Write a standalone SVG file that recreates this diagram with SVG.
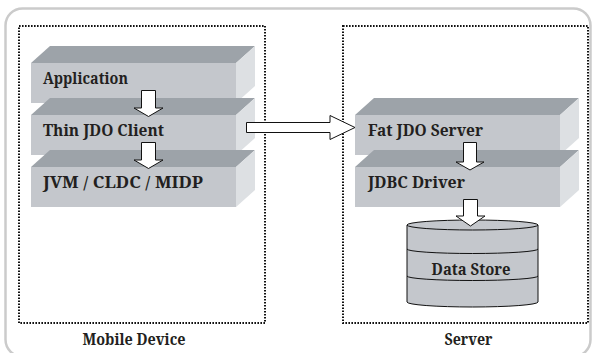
<svg xmlns="http://www.w3.org/2000/svg" width="596" height="353" viewBox="0 0 596 353">
<style>
.front{fill:#c4c7cc}
.top{fill:#9da3a9}
.side{fill:#dde0e3}
.lbl{font-family:'Noto Serif','DejaVu Serif','Liberation Serif',serif;font-weight:700;font-size:17px;fill:#231f20}
.box{fill:none;stroke:#111;stroke-width:2;stroke-dasharray:1.6 1.4}
.arr{fill:#fff;stroke:#111;stroke-width:1}
</style>
<rect x="5.5" y="8.5" width="585" height="348" rx="17" fill="none" stroke="#cbcbcb" stroke-width="2.5"/>
<g id="mobile-device">
<rect class="box" x="19" y="26" width="246" height="297"/>
<text class="lbl" x="134" y="345" text-anchor="middle" textLength="103" lengthAdjust="spacingAndGlyphs">Mobile Device</text>
</g>
<g id="server">
<rect class="box" x="343" y="26" width="245" height="297"/>
<text class="lbl" x="468.5" y="345" text-anchor="middle" textLength="48" lengthAdjust="spacingAndGlyphs">Server</text>
</g>
<g id="application">
<polygon class="top" points="31,63 50,46 255,46 236,63"/>
<polygon class="side" points="236,63 255,46 255,86 236,103"/>
<rect class="front" x="31" y="63" width="205" height="40"/>
<text class="lbl" x="43" y="84" textLength="85" lengthAdjust="spacingAndGlyphs">Application</text>
</g>
<g id="thin-jdo-client">
<polygon class="top" points="31,115 50,98 255,98 236,115"/>
<polygon class="side" points="236,115 255,98 255,138 236,155"/>
<rect class="front" x="31" y="115" width="205" height="40"/>
<text class="lbl" x="43" y="136" textLength="121" lengthAdjust="spacingAndGlyphs">Thin JDO Client</text>
</g>
<g id="jvm-cldc-midp">
<polygon class="top" points="31,167 50,150 255,150 236,167"/>
<polygon class="side" points="236,167 255,150 255,190 236,207"/>
<rect class="front" x="31" y="167" width="205" height="40"/>
<text class="lbl" x="43" y="188" textLength="160" lengthAdjust="spacingAndGlyphs">JVM / CLDC / MIDP</text>
</g>
<g id="fat-jdo-server">
<polygon class="top" points="355,115 374,98 579,98 560,115"/>
<polygon class="side" points="560,115 579,98 579,138 560,155"/>
<rect class="front" x="355" y="115" width="205" height="40"/>
<text class="lbl" x="368" y="136" textLength="115" lengthAdjust="spacingAndGlyphs">Fat JDO Server</text>
</g>
<g id="jdbc-driver">
<polygon class="top" points="355,167 374,150 579,150 560,167"/>
<polygon class="side" points="560,167 579,150 579,190 560,207"/>
<rect class="front" x="355" y="167" width="205" height="40"/>
<text class="lbl" x="368" y="188" textLength="97" lengthAdjust="spacingAndGlyphs">JDBC Driver</text>
</g>
<g id="data-store">
<path d="M407,225 L407,302 A65.5,5 0 0 0 538,302 L538,225 Z" fill="#c4c7cc" stroke="#111" stroke-width="1"/>
<ellipse cx="472.5" cy="225" rx="65.5" ry="5" fill="#c4c7cc" stroke="#111" stroke-width="1"/>
<path d="M407,249 A65.5,4.5 0 0 0 538,249 M407,276 A65.5,4.5 0 0 0 538,276" fill="none" stroke="#111" stroke-width="1"/>
<text class="lbl" x="471" y="275" text-anchor="middle" textLength="79" lengthAdjust="spacingAndGlyphs">Data Store</text>
</g>
<g id="connectors">
<polygon class="arr" points="141.5,90.5 155.5,90.5 155.5,108 163,108 148.5,116.5 134,108 141.5,108"/>
<polygon class="arr" points="141.5,142.5 155.5,142.5 155.5,160 163,160 148.5,168.5 134,160 141.5,160"/>
<polygon class="arr" points="246.5,122.5 330,122.5 330,115.5 355,127.5 330,139.5 330,132.5 246.5,132.5"/>
<polygon class="arr" points="463.5,142.5 476.5,142.5 476.5,162 484,162 470,170 456,162 463.5,162"/>
<polygon class="arr" points="463.5,199.5 477.5,199.5 477.5,216 485,216 470.5,226 456,216 463.5,216"/>
</g>
</svg>
